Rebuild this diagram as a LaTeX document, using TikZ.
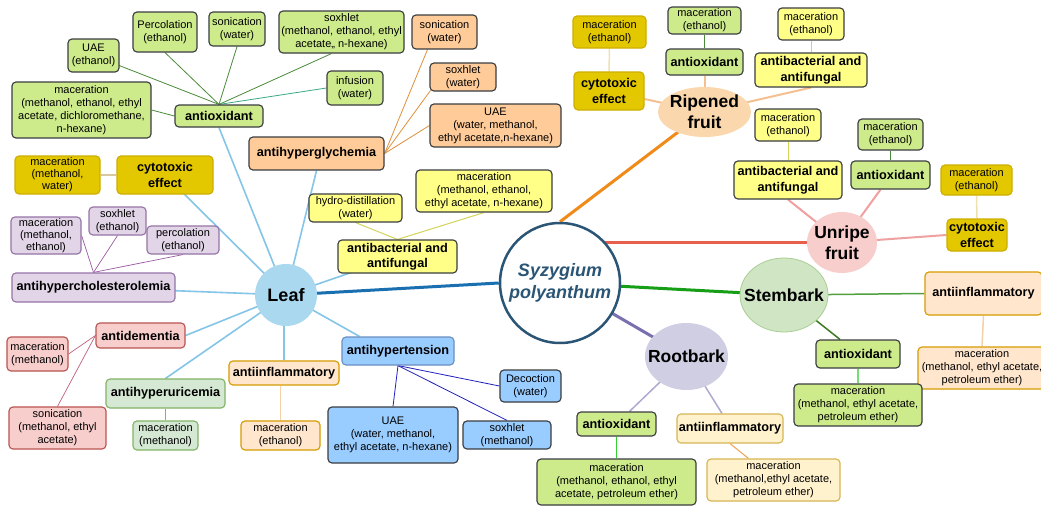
\documentclass[tikz,border=0pt]{standalone}
\usepackage{fontspec}
\setmainfont{Liberation Sans}
\usetikzlibrary{backgrounds,shapes.geometric,calc}
\definecolor{gfill}{HTML}{CDEB8B}
\definecolor{ofill}{HTML}{FFCC99}
\definecolor{yfill}{HTML}{FFFF88}
\definecolor{dyfill}{HTML}{E3C800}
\definecolor{dydraw}{HTML}{CDAE00}
\definecolor{pfill}{HTML}{E1D5E7}
\definecolor{pdraw}{HTML}{9673A6}
\definecolor{rfill}{HTML}{F8CECC}
\definecolor{rdraw}{HTML}{B85450}
\definecolor{lgfill}{HTML}{D5E8D4}
\definecolor{lgdraw}{HTML}{82B366}
\definecolor{lofill}{HTML}{FFE6CC}
\definecolor{lodraw}{HTML}{D79B00}
\definecolor{lyfill}{HTML}{FFF2CC}
\definecolor{lydraw}{HTML}{D6B656}
\definecolor{bfill}{HTML}{99CCFF}
\definecolor{bdraw}{HTML}{6C8EBF}
\definecolor{bord}{HTML}{3A3D40}
\definecolor{leafc}{HTML}{A9D8EF}
\definecolor{ripec}{HTML}{FAD7AC}
\definecolor{unripec}{HTML}{F8CECC}
\definecolor{stemc}{HTML}{D0E5C4}
\definecolor{stemd}{HTML}{A9CF94}
\definecolor{rootc}{HTML}{D0CEE2}
\definecolor{spc}{HTML}{2B5575}
\definecolor{lleaf}{HTML}{1A6FB0}
\definecolor{lripe}{HTML}{F08A18}
\definecolor{lunripe}{HTML}{E8604C}
\definecolor{lstem}{HTML}{169F16}
\definecolor{lroot}{HTML}{7A70B0}
\definecolor{lsky}{HTML}{84C5E8}
\definecolor{ldg}{HTML}{4A8A3A}
\definecolor{lteal}{HTML}{3AAA80}
\definecolor{lor}{HTML}{E0903A}
\definecolor{lyel}{HTML}{D4D45A}
\definecolor{ltan}{HTML}{D8C8A0}
\definecolor{lpur}{HTML}{9A5AA0}
\definecolor{lred}{HTML}{C0607A}
\definecolor{lhg}{HTML}{82B366}
\definecolor{llo}{HTML}{F5D0A8}
\definecolor{lblu}{HTML}{2020C0}
\definecolor{lrb}{HTML}{B0A8D0}
\definecolor{lbg}{HTML}{30D030}
\definecolor{lorb}{HTML}{F0A050}
\definecolor{lsg}{HTML}{50A040}
\definecolor{lsg2}{HTML}{3A7A20}
\definecolor{llg}{HTML}{70E070}
\definecolor{lpink}{HTML}{F0A0A0}
\definecolor{lrp}{HTML}{F5C090}
\definecolor{lpt}{HTML}{F0E0B0}
\tikzset{
  bx/.style={rectangle, rounded corners=4pt, draw=bord, line width=1.15pt, inner sep=1pt, align=center, font=\fontsize{11}{13}\selectfont},
  hd/.style={bx, font=\bfseries\fontsize{12.7}{15.5}\selectfont},
  wh/.style 2 args={minimum width=#1pt, minimum height=#2pt},
  mainlbl/.style={font=\bfseries\fontsize{17.5}{21}\selectfont, align=center, inner sep=0pt, text=black},
  blob/.style={inner sep=0pt},
}
\begin{document}
\begin{tikzpicture}[x=1pt,y=-1pt]
\useasboundingbox (0,0) rectangle (1041,506);
% centre and main branches
\node[circle,blob,draw=spc,line width=2.5pt,fill=white,minimum size=120pt,label={[mainlbl,font=\bfseries\itshape\fontsize{18}{22}\selectfont,text=spc]center:{Syzygium\\polyanthum}}] (sp) at (560,283) {};
\node[circle,blob,fill=leafc,minimum size=62pt,label={[mainlbl,font=\bfseries\fontsize{18}{21}\selectfont]center:Leaf}] (leaf) at (286,295) {};
\node[ellipse,blob,fill=ripec,wh={93}{50},label={[mainlbl]center:{Ripened\\fruit}}] (ripe) at (704.5,112) {};
\node[ellipse,blob,fill=unripec,wh={70}{61},label={[mainlbl]center:{Unripe\\fruit}}] (unripe) at (842,242.5) {};
\node[ellipse,blob,fill=stemc,draw=stemd,line width=0.8pt,wh={88}{74},label={[mainlbl]center:Stembark}] (stem) at (784,295) {};
\node[ellipse,blob,fill=rootc,wh={83}{67},label={[mainlbl]center:Rootbark}] (root) at (686.5,356.5) {};
% Leaf: antioxidant
\node[hd,fill=gfill,wh={88}{22}] (aoxL) at (219,116) {antioxidant};
\node[bx,fill=gfill,wh={51}{33}] (uaeL) at (93.5,55.5) {UAE\\(ethanol)};
\node[bx,fill=gfill,wh={64}{40}] (percL) at (165,32) {Percolation\\(ethanol)};
\node[bx,fill=gfill,wh={56}{34}] (sonL) at (237,29) {sonication\\(water)};
\node[bx,fill=gfill,wh={125}{42}] (soxL) at (341.5,32) {soxhlet\\(methanol, ethanol, ethyl\\acetate,, n-hexane)};
\node[bx,fill=gfill,wh={56}{34}] (infL) at (355,88) {infusion\\(water)};
\node[bx,fill=gfill,wh={139}{56}] (macL) at (81.5,110) {maceration\\(methanol, ethanol, ethyl\\acetate, dichloromethane,\\n-hexane)};
% Leaf: antihyperglychemia
\node[hd,fill=ofill,wh={135}{33}] (ahg) at (316.5,153.5) {antihyperglychemia};
\node[bx,fill=ofill,wh={65}{34}] (sonG) at (444.5,32) {sonication\\(water)};
\node[bx,fill=ofill,wh={66}{28}] (soxG) at (463,77) {soxhlet\\(water)};
\node[bx,fill=ofill,wh={131}{43}] (uaeG) at (495.5,125.5) {UAE\\(water, methanol,\\ethyl acetate,n-hexane)};
% Leaf: antibacterial
\node[hd,fill=yfill,wh={119}{33}] (abL) at (397.5,256.5) {antibacterial and\\antifungal};
\node[bx,fill=yfill,wh={93}{28}] (hyd) at (355.5,208) {hydro-distillation\\(water)};
\node[bx,fill=yfill,wh={136}{42}] (macAB) at (484,191) {maceration\\(methanol, ethanol,\\ethyl acetate, n-hexane)};
% Leaf: cytotoxic
\node[hd,fill=dyfill,draw=dydraw,wh={96}{38}] (cytL) at (165,175) {cytotoxic\\effect};
\node[bx,fill=dyfill,draw=dydraw,wh={85}{38},font=\fontsize{11}{12}\selectfont] (macCyt) at (57.5,175) {maceration\\(methanol,\\water)};
% Leaf: antihypercholesterolemia
\node[hd,fill=pfill,draw=pdraw,wh={163}{29}] (ahc) at (93.5,287.5) {antihypercholesterolemia};
\node[bx,fill=pfill,draw=pdraw,wh={70}{37},font=\fontsize{11}{12}\selectfont] (macP) at (46,235.5) {maceration\\(methanol,\\ethanol)};
\node[bx,fill=pfill,draw=pdraw,wh={57}{28}] (soxP) at (117.5,221) {soxhlet\\(ethanol)};
\node[bx,fill=pfill,draw=pdraw,wh={72}{28}] (percP) at (183,240) {percolation\\(ethanol)};
% Leaf: antidementia
\node[hd,fill=rfill,draw=rdraw,wh={89}{25}] (adem) at (140.5,335.5) {antidementia};
\node[bx,fill=rfill,draw=rdraw,wh={61}{34}] (macR) at (37.5,354) {maceration\\(methanol)};
\node[bx,fill=rfill,draw=rdraw,wh={97}{42}] (sonR) at (57.5,428) {sonication\\(methanol, ethyl\\acetate)};
% Leaf: antihyperuricemia
\node[hd,fill=lgfill,draw=lgdraw,wh={119}{29}] (ahu) at (165.5,393.5) {antihyperuricemia};
\node[bx,fill=lgfill,draw=lgdraw,wh={65}{29}] (macU) at (165.5,435.5) {maceration\\(methanol)};
% Leaf: antiinflammatory
\node[hd,fill=lofill,draw=lodraw,wh={110}{24}] (ainfL) at (284,373) {antiinflammatory};
\node[bx,fill=lofill,draw=lodraw,wh={79}{29}] (macI) at (280.5,435.5) {maceration\\(ethanol)};
% Leaf: antihypertension
\node[hd,fill=bfill,draw=bdraw,wh={112}{28}] (aht) at (398,351) {antihypertension};
\node[bx,fill=bfill,wh={61}{32}] (dec) at (530.5,386) {Decoction\\(water)};
\node[bx,fill=bfill,wh={130}{56}] (uaeB) at (393,435) {UAE\\(water, methanol,\\ethyl acetate, n-hexane)};
\node[bx,fill=bfill,wh={88}{28}] (soxB) at (507,435) {soxhlet\\(methanol)};
% Rootbark
\node[hd,fill=gfill,wh={79}{24}] (aoxR) at (616.5,424) {antioxidant};
\node[bx,fill=gfill,wh={159}{46}] (macRA) at (616.5,482) {maceration\\(methanol, ethanol, ethyl\\acetate, petroleum ether)};
\node[hd,fill=lyfill,draw=lydraw,wh={106}{29}] (ainfR) at (730,428.5) {antiinflammatory};
\node[bx,fill=lyfill,draw=lydraw,wh={133}{42}] (macRI) at (773.5,480) {maceration\\(methanol,ethyl acetate,\\petroleum ether)};
% Stembark
\node[hd,fill=lofill,draw=lodraw,wh={117}{43}] (ainfS) at (983.5,293.5) {antiinflammatory};
\node[bx,fill=lofill,draw=lodraw,wh={128}{42}] (macSI) at (982,368) {maceration\\(methanol, ethyl acetate,\\petroleum ether)};
\node[hd,fill=gfill,wh={84}{28}] (aoxS) at (858,354) {antioxidant};
\node[bx,fill=gfill,wh={128}{42}] (macSA) at (858,405) {maceration\\(methanol, ethyl acetate,\\petroleum ether)};
% Unripe fruit
\node[hd,fill=yfill,wh={108}{38}] (abU) at (788,180) {antibacterial and\\antifungal};
\node[bx,fill=yfill,wh={66}{32}] (macUY) at (788,125) {maceration\\(ethanol)};
\node[hd,fill=gfill,wh={79}{28}] (aoxU) at (890.5,175) {antioxidant};
\node[bx,fill=gfill,wh={65}{31}] (macUG) at (890.5,134.5) {maceration\\(ethanol)};
\node[hd,fill=dyfill,draw=dydraw,wh={60}{32}] (cytU) at (977,235) {cytotoxic\\effect};
\node[bx,fill=dyfill,draw=dydraw,wh={71}{30}] (macUC) at (976.5,180) {maceration\\(ethanol)};
% Ripened fruit
\node[hd,fill=dyfill,draw=dydraw,wh={70}{38}] (cytR) at (609,91) {cytotoxic\\effect};
\node[bx,fill=dyfill,draw=dydraw,wh={73}{32}] (macRC) at (609.5,32) {maceration\\(ethanol)};
\node[hd,fill=gfill,wh={77}{26}] (aoxRp) at (704.5,62) {antioxidant};
\node[bx,fill=gfill,wh={73}{27}] (macRG) at (704.5,20.5) {maceration\\(ethanol)};
\node[hd,fill=yfill,wh={112}{34}] (abR) at (811,70) {antibacterial and\\antifungal};
\node[bx,fill=yfill,wh={66}{32}] (macRY) at (811,24) {maceration\\(ethanol)};

\begin{pgfonlayer}{background}
\fill[white] (0,0) rectangle (1041,506);
% main branches
\draw[lleaf,line width=3pt] (leaf.center) -- (sp.west);
\draw[lripe,line width=3pt] (sp.north) -- (ripe.center);
\draw[lunripe,line width=3pt] (unripe.center) -- (unripe.center -| sp.center);
\draw[lstem,line width=3pt] (sp.center) -- (stem.center);
\draw[lroot,line width=3pt] (sp.center) -- (root.center);
% leaf branches
\draw[lsky,line width=1.6pt] (leaf.center) -- (aoxL.south);
\draw[lsky,line width=1.6pt] (leaf.center) -- (ahg.south);
\draw[lsky,line width=1.6pt] (leaf.center) -- (cytL.center);
\draw[lsky,line width=1.6pt] (leaf.center) -- (ahc.center);
\draw[lsky,line width=1.6pt] (leaf.center) -- (abL.center);
\draw[lsky,line width=1.6pt] (leaf.center) -- (adem.east);
\draw[lsky,line width=1.6pt] (leaf.center) -- (ahu.north);
\draw[lsky,line width=1.6pt] (ainfL.north) -- (ainfL.north |- leaf.center);
\draw[lsky,line width=1.6pt] (leaf.center) -- ($(aht.north west)+(18,0)$);
% leaf antioxidant
\draw[ldg,line width=0.8pt] (aoxL.north) -- (uaeL.center);
\draw[ldg,line width=0.8pt] (aoxL.north) -- (percL.south);
\draw[ldg,line width=0.8pt] (aoxL.north) -- (sonL.south);
\draw[ldg,line width=0.8pt] (aoxL.north) -- ($(soxL.south)+(-10,0)$);
\draw[lteal,line width=0.8pt] (aoxL.north) -- (infL.west);
\draw[ldg,line width=0.8pt] (aoxL.west) -- (macL.east);
% antihyperglychemia
\draw[lor,line width=0.8pt] (ahg.east) -- ($(sonG.south)+(-17,0)$);
\draw[lor,line width=0.8pt] (ahg.east) -- ($(soxG.south west)+(1,-1)$);
\draw[lor,line width=0.8pt] (ahg.east) -- (uaeG.west);
% antibacterial leaf
\draw[lyel,line width=1pt] (abL.north) -- (hyd.south);
\draw[lyel,line width=1pt] (abL.north) -- (macAB.south);
% cytotoxic leaf
\draw[ltan,line width=2pt] (cytL.west) -- (macCyt.east);
% antihypercholesterolemia
\draw[lpur,line width=0.7pt] (ahc.north) -- (macP.east);
\draw[lpur,line width=0.7pt] (ahc.north) -- (soxP.south);
\draw[lpur,line width=0.7pt] (ahc.north) -- (percP.south);
% antidementia
\draw[lred,line width=0.7pt] (adem.west) -- (macR.east);
\draw[lred,line width=0.7pt] (adem.west) -- (sonR.north);
% antihyperuricemia, antiinflammatory
\draw[lhg,line width=0.8pt] (ahu.south) -- (macU.north);
\draw[llo,line width=1.5pt] (macI.north) -- (macI.north |- ainfL.south);
% antihypertension
\draw[lblu,line width=0.8pt] (aht.south) -- (dec.west);
\draw[lblu,line width=0.8pt] (aht.south) -- (uaeB.north);
\draw[lblu,line width=0.8pt] (aht.south) -- (soxB.north);
% rootbark
\draw[lrb,line width=1.5pt] (root.center) -- ($(aoxR.north)+(13,0)$);
\draw[lrb,line width=1.5pt] (root.center) -- ($(ainfR.north)+(-8,0)$);
\draw[lbg,line width=1pt] (aoxR.south) -- (macRA.north);
\draw[lorb,line width=1pt] (ainfR.south) -- ($(macRI.north)+(-25,0)$);
% stembark
\draw[lsg,line width=1.5pt] (stem.center) -- (ainfS.west);
\draw[lsg2,line width=1.5pt] (stem.center) -- ($(aoxS.north)+(-18,0)$);
\draw[llg,line width=1.5pt] (aoxS.south) -- (macSA.north);
\draw[llo,line width=1.5pt] (ainfS.south) -- (macSI.north);
% unripe
\draw[lpink,line width=2pt] (abU.south) -- (unripe.center);
\draw[lpink,line width=2pt] ($(aoxU.south)+(-10,0)$) -- (unripe.center);
\draw[lpink,line width=2pt] (unripe.center) -- (cytU.west);
\draw[lyel,line width=1pt] (macUY.south) -- (abU.north);
\draw[ldg,line width=1pt] (macUG.south) -- (aoxU.north);
\draw[lpt,line width=1.5pt] (macUC.south) -- (cytU.north);
% ripened
\draw[lrp,line width=2pt] (ripe.center) -- ($(cytR.east)+(0,8)$);
\draw[lrp,line width=2pt] (aoxRp.south) -- (ripe.center);
\draw[lrp,line width=2pt] (abR.south) -- (ripe.center);
\draw[lpt,line width=1.5pt] (macRC.south) -- (cytR.north);
\draw[ldg,line width=1pt] (macRG.south) -- (aoxRp.north);
\draw[lyel,line width=1pt] (macRY.south) -- (abR.north);
\end{pgfonlayer}
\end{tikzpicture}
\end{document}
